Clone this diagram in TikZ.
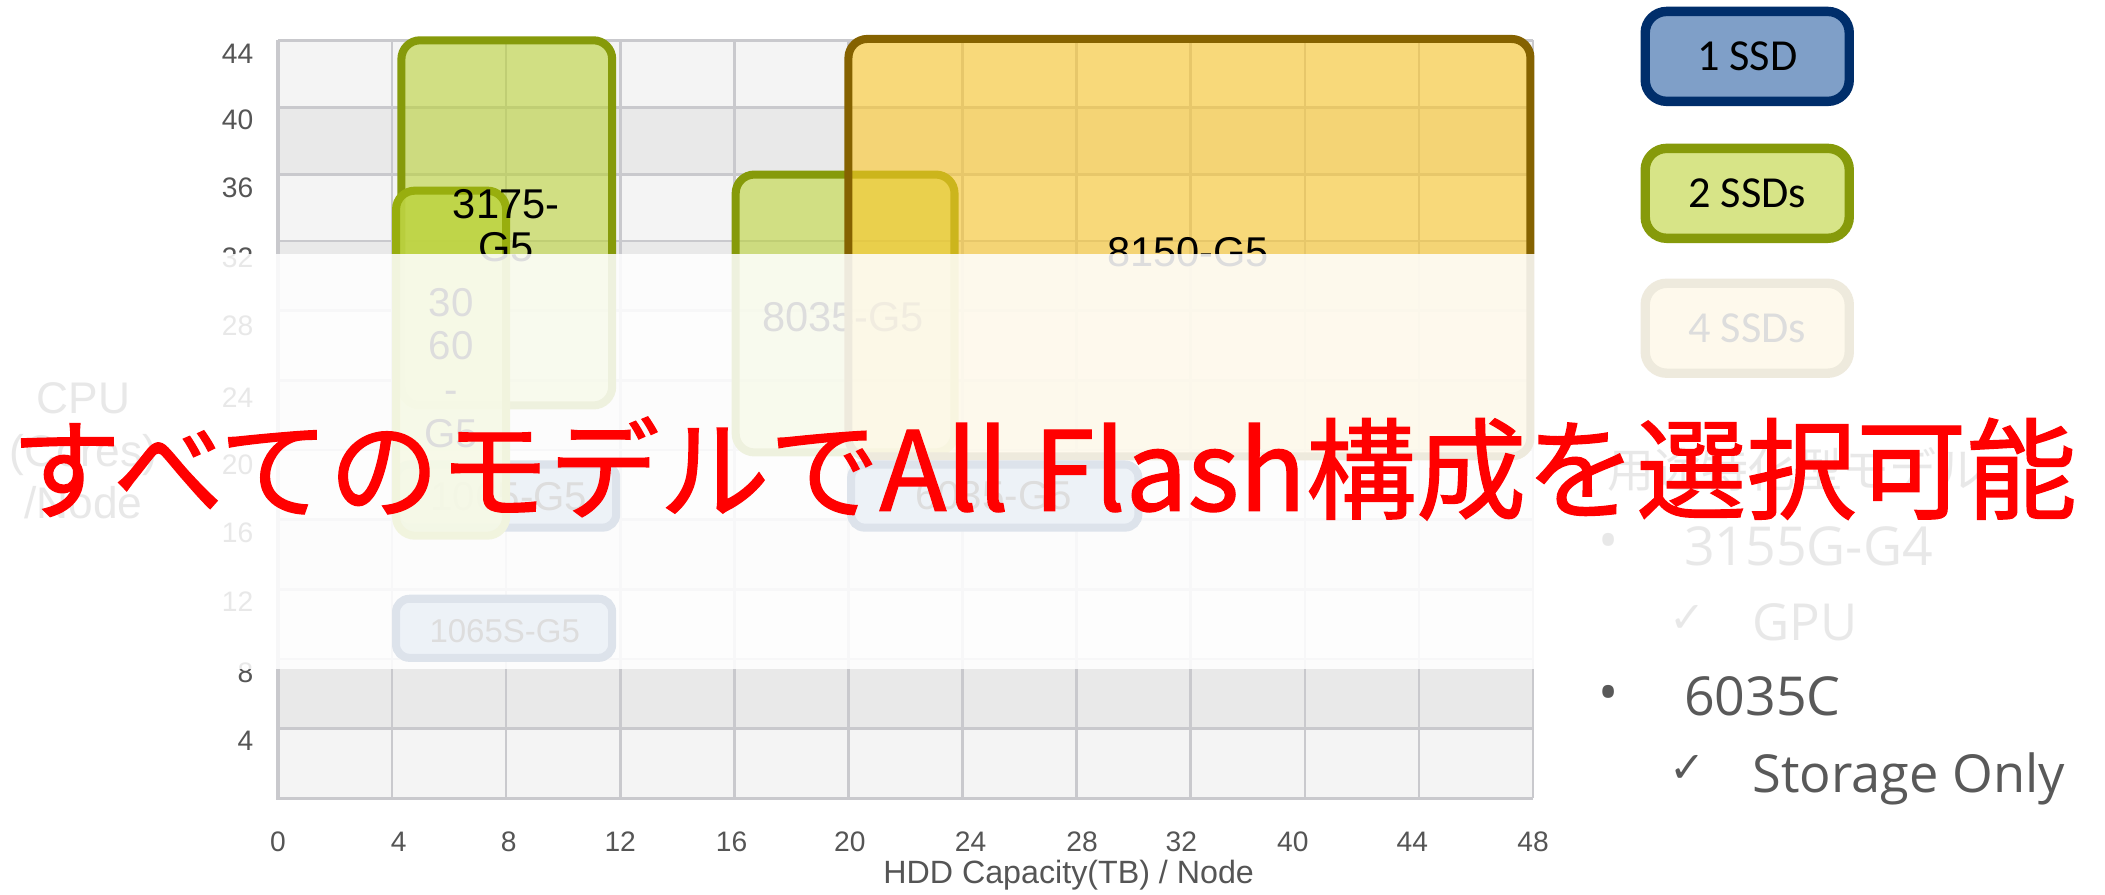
\documentclass[tikz,border=0pt]{standalone}
\usepackage{fontspec}
\setmainfont{Liberation Sans}
\newfontfamily\legfont{Carlito}
\newfontfamily\listfont{Open Sans}
\newfontfamily\jpfont{Noto Sans CJK JP}
\newfontfamily\jpheavy[FakeBold=1.2]{Noto Sans CJK JP}
\newfontfamily\symfont{DejaVu Sans}
\definecolor{gridc}{HTML}{C9C9CD}
\definecolor{rowlight}{HTML}{F4F4F4}
\definecolor{rowdark}{HTML}{E9E9E9}
\definecolor{tickc}{HTML}{555555}
\definecolor{textgrey}{HTML}{595959}
\definecolor{olive}{HTML}{869A0A}
\definecolor{greenfill}{HTML}{BBD239}
\definecolor{limeborder}{HTML}{98AE0E}
\definecolor{limefill}{HTML}{BED443}
\definecolor{goldborder}{HTML}{856200}
\definecolor{goldfill}{HTML}{FCC729}
\definecolor{navy}{HTML}{002E6B}
\definecolor{bluefill}{HTML}{7F9FC8}
\definecolor{leggreen}{HTML}{D7E487}
\definecolor{leggold}{HTML}{FAD972}
\begin{document}
\begin{tikzpicture}[x=0.5pt,y=-0.5pt,
  gridline/.style={draw=gridc,line width=1pt},
  ticklab/.style={text=tickc,font=\fontsize{10.5}{12}\selectfont,inner sep=0pt},
  chartbox/.style={rounded corners=7pt,line width=3pt},
  smallbox/.style={rounded corners=5pt,line width=3pt},
  twossd/.style={chartbox,draw=olive,fill=greenfill,fill opacity=0.6},
  limessd/.style={chartbox,draw=limeborder,fill=limefill,fill opacity=0.9},
  fourssd/.style={chartbox,draw=goldborder,fill=goldfill,fill opacity=0.6},
  onessd/.style={smallbox,draw=navy,fill=bluefill},
  boxlab/.style={text=black,font=\fontsize{15.5}{16.25}\selectfont,align=center,inner sep=0pt},
  legbox/.style={rounded corners=8pt,line width=3.5pt,minimum width=76pt,minimum height=33.5pt,
    font=\legfont\fontsize{16.5}{18}\selectfont,text=black},
  listtext/.style={text=textgrey,font=\listfont\fontsize{20}{22}\selectfont,inner sep=0pt},
  checkmark/.style={text=textgrey,font=\symfont\fontsize{16}{17}\selectfont,inner sep=0pt}
]
\useasboundingbox (0,0) rectangle (1568,666);
\fill[white] (0,0) rectangle (1568,666);
% background rows
\foreach \a/\b [count=\i] in {30/80,80/130,130/179.5,179.5/231.4,231.4/283.3,283.3/335.2,335.2/387.1,387.1/439,439/490.9,490.9/542.8,542.8/594.7}{
  \ifodd\i \fill[rowlight] (207,\a) rectangle (1142,\b); \else \fill[rowdark] (207,\a) rectangle (1142,\b); \fi
}
% grid lines
\foreach \y in {30,80,130,179.5,231.4,283.3,335.2,387.1,439,490.9,542.8}{
  \draw[gridline] (207,\y) -- (1142,\y);
}
\foreach \x in {292,377,462,547,632,717,802,887,972,1057,1142}{
  \draw[gridline] (\x,30) -- (\x,594.7);
}
\draw[gridline,line width=1.4pt] (207,30) -- (207,594.7) -- (1142,594.7);
% y tick labels
\foreach \v/\y in {44/40,40/89,36/140,32/192,28/243,24/296,20/346,16/397,12/448,8/501,4/552}{
  \node[ticklab,anchor=east] (yl\v) at (189,\y) {\v};
}
% x tick labels
\foreach \v/\x in {0/207,4/297,8/379,12/462,16/545,20/633,24/723,28/806,32/880,40/963,44/1052,48/1142}{
  \node[ticklab] (xl\v) at (\x,627) {\v};
}
\node[text=tickc,font=\fontsize{12}{14}\selectfont,inner sep=0pt] (xtitle) at (796,652) {HDD Capacity(TB) / Node};
\node[text=tickc,font=\fontsize{16.5}{19.5}\selectfont,align=center,inner sep=0pt] (ytitle) at (62,336) {CPU\\(Cores)\\/Node};
% chart boxes
\draw[twossd] (548,130) rectangle (711,337);
\node[boxlab] (l8035) at (628,236) {8035-G5};
\draw[fourssd] (632,29) rectangle (1140,340);
\node[boxlab] (l8150) at (885,188) {8150-G5};
\draw[twossd] (299,30) rectangle (456,302);
\draw[onessd] (295,346) rectangle (459,393);
\node[boxlab,font=\fontsize{15}{16}\selectfont] (l1065) at (379,370) {1065-G5};
\draw[limessd] (295,142) rectangle (377,399);
\node[boxlab,font=\fontsize{15}{16.3}\selectfont] (l3060) at (336,274) {30\\60\\-\\G5};
\node[boxlab] (l3175) at (377,168) {3175-\\G5};
\draw[onessd] (295,446) rectangle (456,490);
\node[boxlab,font=\fontsize{12.3}{14}\selectfont] (l1065s) at (376,470) {1065S-G5};
\draw[onessd] (634,346) rectangle (848,393);
\node[boxlab,font=\fontsize{15}{16}\selectfont] (l6035) at (740,369) {6035-G5};
% legend
\node[legbox,draw=navy,fill=bluefill] (leg1) at (1301.5,42) {1 SSD};
\node[legbox,draw=olive,fill=leggreen] (leg2) at (1301.5,144) {2 SSDs};
\node[legbox,draw=goldborder,fill=leggold] (leg4) at (1301.5,244.5) {4 SSDs};
% right list
\node[text=textgrey,font=\jpfont\fontsize{17.5}{19}\selectfont,anchor=west,inner sep=0pt] (spec) at (1197,350) {用途特化型モデル};
\node[listtext] (b1) at (1198,407) {•};
\node[listtext,anchor=base west] (m1) at (1254,421) {3155G-G4};
\node[checkmark] (c1) at (1257,461) {✓};
\node[listtext,anchor=base west,font=\listfont\fontsize{19}{21}\selectfont] (u1) at (1305,477) {GPU};
\node[listtext] (b2) at (1198,520) {•};
\node[listtext,anchor=base west] (m2) at (1254,533) {6035C};
\node[checkmark] (c2) at (1257,573) {✓};
\node[listtext,anchor=base west,font=\listfont\fontsize{19.5}{21}\selectfont] (u2) at (1305,590) {Storage Only};
% translucent overlay band
\fill[white,opacity=0.867] (0,189) rectangle (1568,498);
% red message
\node[text=red,font=\jpheavy\fontsize{41}{45}\selectfont,inner sep=0pt] (msg) at (777.5,349) {すべてのモデルでAll Flash構成を選択可能};
\end{tikzpicture}
\end{document}
